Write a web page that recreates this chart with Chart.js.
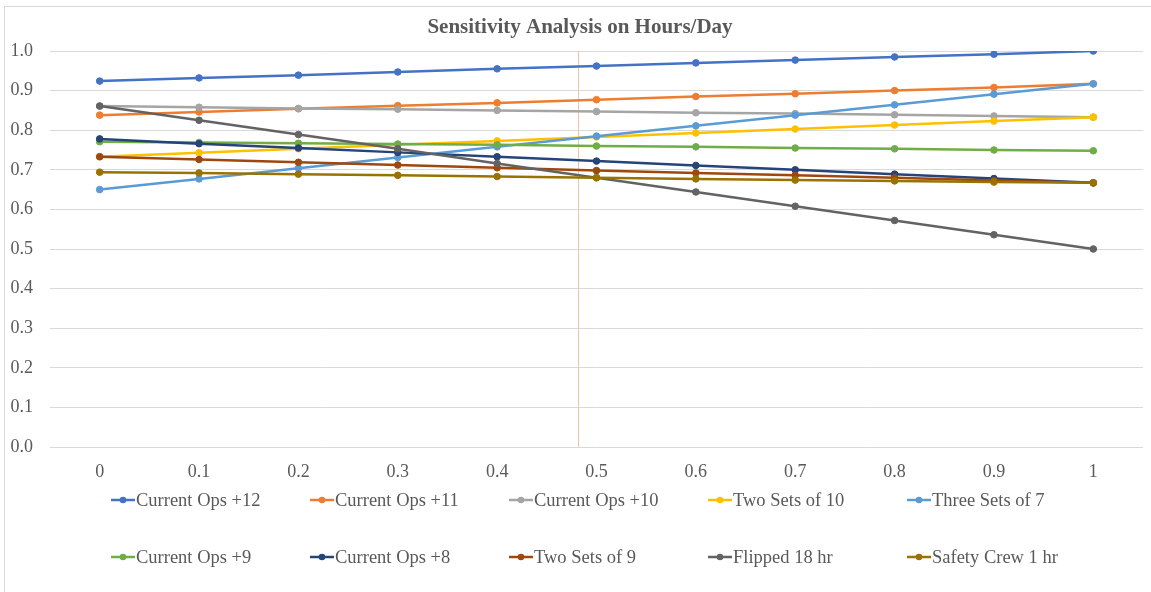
<!DOCTYPE html>
<html>
<head>
<meta charset="utf-8">
<script src="https://cdn.jsdelivr.net/npm/chart.js@4.4.1/dist/chart.umd.min.js"></script>
<style>
html,body{margin:0;padding:0;background:#fff;}
#wrap{position:relative;width:1151px;height:592px;}
</style>
</head>
<body>
<div id="wrap"><canvas id="c" width="1151" height="592"></canvas></div>
<script>
const title = 'Sensitivity Analysis on Hours/Day';
const categories = ['0','0.1','0.2','0.3','0.4','0.5','0.6','0.7','0.8','0.9','1'];
const seriesNames = ['Current Ops +12','Current Ops +11','Current Ops +10','Two Sets of 10','Three Sets of 7','Current Ops +9','Current Ops +8','Two Sets of 9','Flipped 18 hr','Safety Crew 1 hr'];
const currentOps12 = [0.924,0.932,0.939,0.947,0.955,0.962,0.970,0.977,0.985,0.992,1.000];
const currentOps11 = [0.838,0.846,0.854,0.862,0.869,0.877,0.885,0.892,0.900,0.908,0.917];
const currentOps10 = [0.861,0.858,0.855,0.853,0.850,0.847,0.844,0.842,0.839,0.836,0.833];
const twoSetsOf10 = [0.733,0.743,0.753,0.763,0.773,0.783,0.793,0.803,0.813,0.823,0.833];
const threeSetsOf7 = [0.650,0.677,0.704,0.731,0.758,0.785,0.811,0.838,0.864,0.891,0.917];
const currentOps9 = [0.771,0.769,0.767,0.765,0.763,0.760,0.758,0.755,0.753,0.750,0.748];
const currentOps8 = [0.778,0.766,0.755,0.744,0.733,0.722,0.711,0.700,0.689,0.678,0.667];
const twoSetsOf9 = [0.733,0.726,0.719,0.712,0.705,0.698,0.692,0.686,0.680,0.673,0.667];
const flipped18 = [0.861,0.825,0.789,0.753,0.716,0.680,0.644,0.608,0.572,0.536,0.500];
const safetyCrew1 = [0.694,0.692,0.689,0.686,0.683,0.680,0.677,0.674,0.672,0.669,0.667];
const seriesValues = [currentOps12,currentOps11,currentOps10,twoSetsOf10,threeSetsOf7,currentOps9,currentOps8,twoSetsOf9,flipped18,safetyCrew1];
const seriesColors = ['#4472C4','#ED7D31','#A5A5A5','#FFC000','#5B9BD5','#70AD47','#264478','#9E480E','#636363','#997300'];
const yTickValues = [0,0.1,0.2,0.3,0.4,0.5,0.6,0.7,0.8,0.9,1.0];
const markerLineX = 0.481; // vertical reference line, in x-axis units

const FONT = '"Liberation Serif", "Times New Roman", serif';
const TEXT = '#595959';

const datasets = seriesNames.map((name, i) => ({
  label: name,
  data: seriesValues[i],
  borderColor: seriesColors[i],
  backgroundColor: seriesColors[i],
  pointBackgroundColor: seriesColors[i],
  pointBorderColor: seriesColors[i],
  borderWidth: 2.5,
  pointRadius: 3.3,
  pointBorderWidth: 1,
  pointHoverRadius: 3.3,
  tension: 0,
  fill: false,
  order: -i
}));

const decorPlugin = {
  id: 'decor',
  beforeDraw(chart) {
    const ctx = chart.ctx;
    ctx.save();
    ctx.fillStyle = '#fff';
    ctx.fillRect(0, 0, chart.width, chart.height);
    ctx.strokeStyle = '#D9D9D9';
    ctx.lineWidth = 1;
    ctx.strokeRect(4.5, 6.5, chart.width + 10, chart.height + 10);
    ctx.restore();
  },
  beforeDatasetsDraw(chart) {
    const ctx = chart.ctx;
    const xs = chart.scales.x;
    const area = chart.chartArea;
    const idx = markerLineX / 0.1;
    const px = Math.round(xs.getPixelForValue(idx)) + 0.5;
    ctx.save();
    ctx.strokeStyle = '#F6C4A4';
    ctx.lineWidth = 1;
    ctx.beginPath();
    ctx.moveTo(px, area.top);
    ctx.lineTo(px, area.bottom);
    ctx.stroke();
    ctx.restore();
  },
  afterDraw(chart) {
    const ctx = chart.ctx;
    ctx.save();
    // title
    ctx.fillStyle = TEXT;
    ctx.font = 'bold 21px ' + FONT;
    ctx.textAlign = 'center';
    ctx.textBaseline = 'middle';
    ctx.fillText(title, 580, 28);
    // legend
    ctx.font = '18.5px ' + FONT;
    ctx.textAlign = 'left';
    const startX = 111, colW = 199, rowY = [500, 557];
    chart.data.datasets.forEach((ds, i) => {
      const col = i % 5, row = Math.floor(i / 5);
      const x = startX + col * colW, y = rowY[row];
      ctx.strokeStyle = ds.borderColor;
      ctx.lineWidth = 2.5;
      ctx.beginPath();
      ctx.moveTo(x, y);
      ctx.lineTo(x + 24, y);
      ctx.stroke();
      ctx.fillStyle = ds.borderColor;
      ctx.beginPath();
      ctx.arc(x + 12, y, 3.3, 0, Math.PI * 2);
      ctx.fill();
      ctx.fillStyle = TEXT;
      ctx.fillText(ds.label, x + 25, y + 1);
    });
    ctx.restore();
  }
};

new Chart(document.getElementById('c'), {
  type: 'line',
  data: { labels: categories, datasets },
  options: {
    responsive: false,
    animation: false,
    devicePixelRatio: 1,
    layout: { padding: { top: 51, right: 8, bottom: 105, left: 0 } },
    plugins: { legend: { display: false }, title: { display: false }, tooltip: { enabled: false } },
    scales: {
      x: {
        type: 'category',
        offset: true,
        grid: { display: false, drawTicks: false },
        border: { display: false },
        ticks: { color: TEXT, font: { family: FONT, size: 18 }, padding: 14, maxRotation: 0 },
        afterFit(s) { s.height = 40; }
      },
      y: {
        min: 0, max: 1,
        afterBuildTicks(s) { s.ticks = yTickValues.map(v => ({ value: v })); },
        grid: { color: '#D9D9D9', lineWidth: 1, drawTicks: false },
        border: { display: false },
        ticks: { color: TEXT, font: { family: FONT, size: 18 }, padding: 17, callback: v => Number(v).toFixed(1) },
        afterFit(s) { s.width = 50; }
      }
    }
  },
  plugins: [decorPlugin]
});
</script>
</body>
</html>
